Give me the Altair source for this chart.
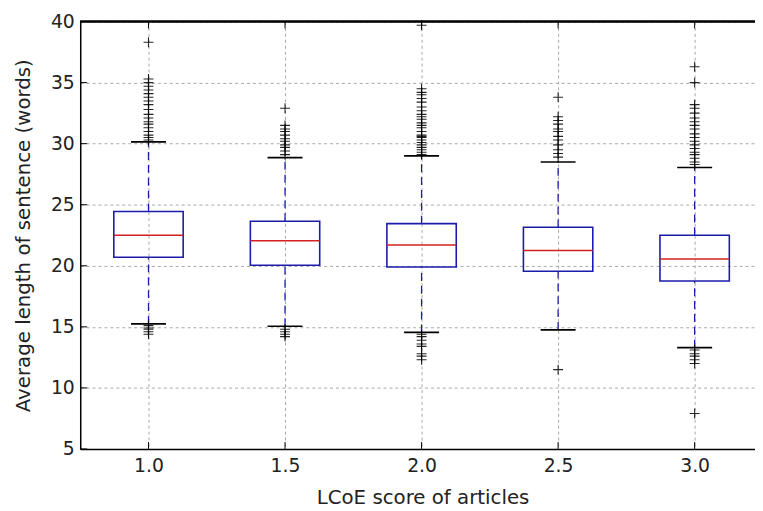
import altair as alt
import pandas as pd

# ---- data ----
scores = [1.0, 1.5, 2.0, 2.5, 3.0]
q1 = [20.7, 20.05, 19.9, 19.55, 18.75]
q3 = [24.45, 23.65, 23.45, 23.15, 22.5]
medians = [22.5, 22.05, 21.7, 21.25, 20.55]
whisker_low = [15.25, 15.05, 14.55, 14.75, 13.3]
whisker_high = [30.15, 28.85, 29.0, 28.5, 28.05]

outliers_10 = [38.3, 35.3, 35.0, 34.7, 34.4, 34.1, 33.8, 33.5, 33.2, 32.8, 32.4,
               32.1, 31.8, 31.6, 31.3, 31.0, 30.7, 30.5, 30.3,
               15.1, 14.9, 14.8, 14.6, 14.4]
outliers_15 = [32.9, 31.5, 31.2, 31.0, 30.7, 30.4, 30.2, 29.9, 29.7, 29.4, 29.1,
               14.8, 14.6, 14.4, 14.2]
outliers_20 = [39.7, 34.5, 34.2, 34.0, 33.7, 33.4, 33.0, 32.7, 32.4, 32.2, 32.0,
               31.7, 31.5, 31.3, 31.0, 30.7, 30.6, 30.5, 30.3, 30.1, 29.9, 29.7,
               29.5, 29.3, 29.1,
               14.4, 14.2, 13.9, 13.6, 13.4, 12.8, 12.6, 12.3]
outliers_25 = [33.8, 32.2, 31.9, 31.6, 31.2, 31.0, 30.6, 30.3, 29.9, 29.5, 29.2, 28.9,
               11.5]
outliers_30 = [36.3, 35.0, 33.2, 32.9, 32.5, 32.1, 31.8, 31.5, 31.2, 30.8, 30.5,
               30.2, 29.9, 29.6, 29.3, 29.1, 28.8, 28.5, 28.3,
               13.1, 12.8, 12.6, 12.3, 12.0, 7.9]
outlier_lists = [outliers_10, outliers_15, outliers_20, outliers_25, outliers_30]

x_ticks = [1.0, 1.5, 2.0, 2.5, 3.0]
y_ticks = [5, 10, 15, 20, 25, 30, 35, 40]

# ---- tables ----
stats = pd.DataFrame({
    "score": scores, "q1": q1, "q3": q3, "median": medians,
    "lo": whisker_low, "hi": whisker_high,
})
out_df = pd.DataFrame(
    [{"score": s, "value": v} for s, vals in zip(scores, outlier_lists) for v in vals]
)
xt_df = pd.DataFrame({"t": x_ticks})
yt_df = pd.DataFrame({"t": y_ticks})

W, H = 682, 432
FONT = "DejaVu Sans"
BLUE = "#1c1cac"
RED = "#d42020"

x_scale = alt.Scale(domain=[0.75, 0.75 + W / 276.0], nice=False, zero=False)
y_scale = alt.Scale(domain=[5, 40], nice=False, zero=False)

x_axis = alt.Axis(
    values=x_ticks, format=".1f", title="LCoE score of articles",
    grid=True, gridDash=[3, 3], gridColor="#a8a8a8", gridWidth=1,
    ticks=False, labelPadding=8, domainColor="black", domainWidth=1.5,
    labelFontSize=19, titleFontSize=20, labelFont=FONT, titleFont=FONT,
    titleFontWeight="normal", labelColor="#222", titleColor="#222",
    titlePadding=12, titleX=346,
)
y_axis = alt.Axis(
    values=y_ticks, title="Average length of sentence (words)",
    grid=True, gridDash=[3, 3], gridColor="#a8a8a8", gridWidth=1,
    ticks=False, labelPadding=6, domainColor="black", domainWidth=1.5,
    labelFontSize=19, titleFontSize=20, labelFont=FONT, titleFont=FONT,
    titleFontWeight="normal", labelColor="#222", titleColor="#222",
    titlePadding=17,
)

base = alt.Chart(stats)

grid_layer = base.mark_point(opacity=0).encode(
    x=alt.X("score:Q", scale=x_scale, axis=x_axis),
    y=alt.Y("median:Q", scale=y_scale, axis=y_axis),
)

whisk_up = base.mark_rule(color=BLUE, strokeWidth=1.3, strokeDash=[8, 5]).encode(
    x="score:Q", y="q3:Q", y2="hi:Q"
)
whisk_dn = base.mark_rule(color=BLUE, strokeWidth=1.3, strokeDash=[8, 5]).encode(
    x="score:Q", y="lo:Q", y2="q1:Q"
)

caps_hi = base.transform_calculate(
    a="datum.score - 0.064", b="datum.score + 0.064"
).mark_rule(color="black", strokeWidth=1.7).encode(x="a:Q", x2="b:Q", y="hi:Q")
caps_lo = base.transform_calculate(
    a="datum.score - 0.064", b="datum.score + 0.064"
).mark_rule(color="black", strokeWidth=1.7).encode(x="a:Q", x2="b:Q", y="lo:Q")

boxes = base.transform_calculate(
    a="datum.score - 0.127", b="datum.score + 0.127"
).mark_rect(fillOpacity=0, stroke=BLUE, strokeWidth=1.6).encode(
    x="a:Q", x2="b:Q", y="q1:Q", y2="q3:Q"
)

med = base.transform_calculate(
    a="datum.score - 0.127", b="datum.score + 0.127"
).mark_rule(color=RED, strokeWidth=1.5).encode(x="a:Q", x2="b:Q", y="median:Q")

fliers = alt.Chart(out_df).mark_point(
    shape="M-1,0L1,0M0,-1L0,1", filled=False, stroke="black",
    strokeWidth=1.1, size=100, opacity=0.85,
).encode(x="score:Q", y="value:Q")

# inward ticks (classic style)
yt_left = alt.Chart(yt_df).mark_rule(color="black", strokeWidth=1).encode(
    y="t:Q", x=alt.value(0), x2=alt.value(7)
)
xt_bottom = alt.Chart(xt_df).mark_rule(color="black", strokeWidth=1).encode(
    x="t:Q", y=alt.value(H), y2=alt.value(H - 7)
)
xt_top = alt.Chart(xt_df).mark_rule(color="black", strokeWidth=1).encode(
    x="t:Q", y=alt.value(0), y2=alt.value(7)
)
top_spine = alt.Chart(xt_df).mark_rule(color="black", strokeWidth=1.5).encode(
    x=alt.value(0), x2=alt.value(W), y=alt.value(0)
)

chart = alt.layer(
    grid_layer, whisk_up, whisk_dn, caps_hi, caps_lo, boxes, med, fliers,
    yt_left, xt_bottom, xt_top, top_spine,
).properties(
    width=W, height=H,
    autosize=alt.AutoSizeParams(type="none"),
    padding={"left": 73, "top": 11, "right": 0, "bottom": 60},
).configure_view(stroke=None).configure(background="white")

chart.save("out.html", embed_options={"renderer": "svg", "actions": False})
